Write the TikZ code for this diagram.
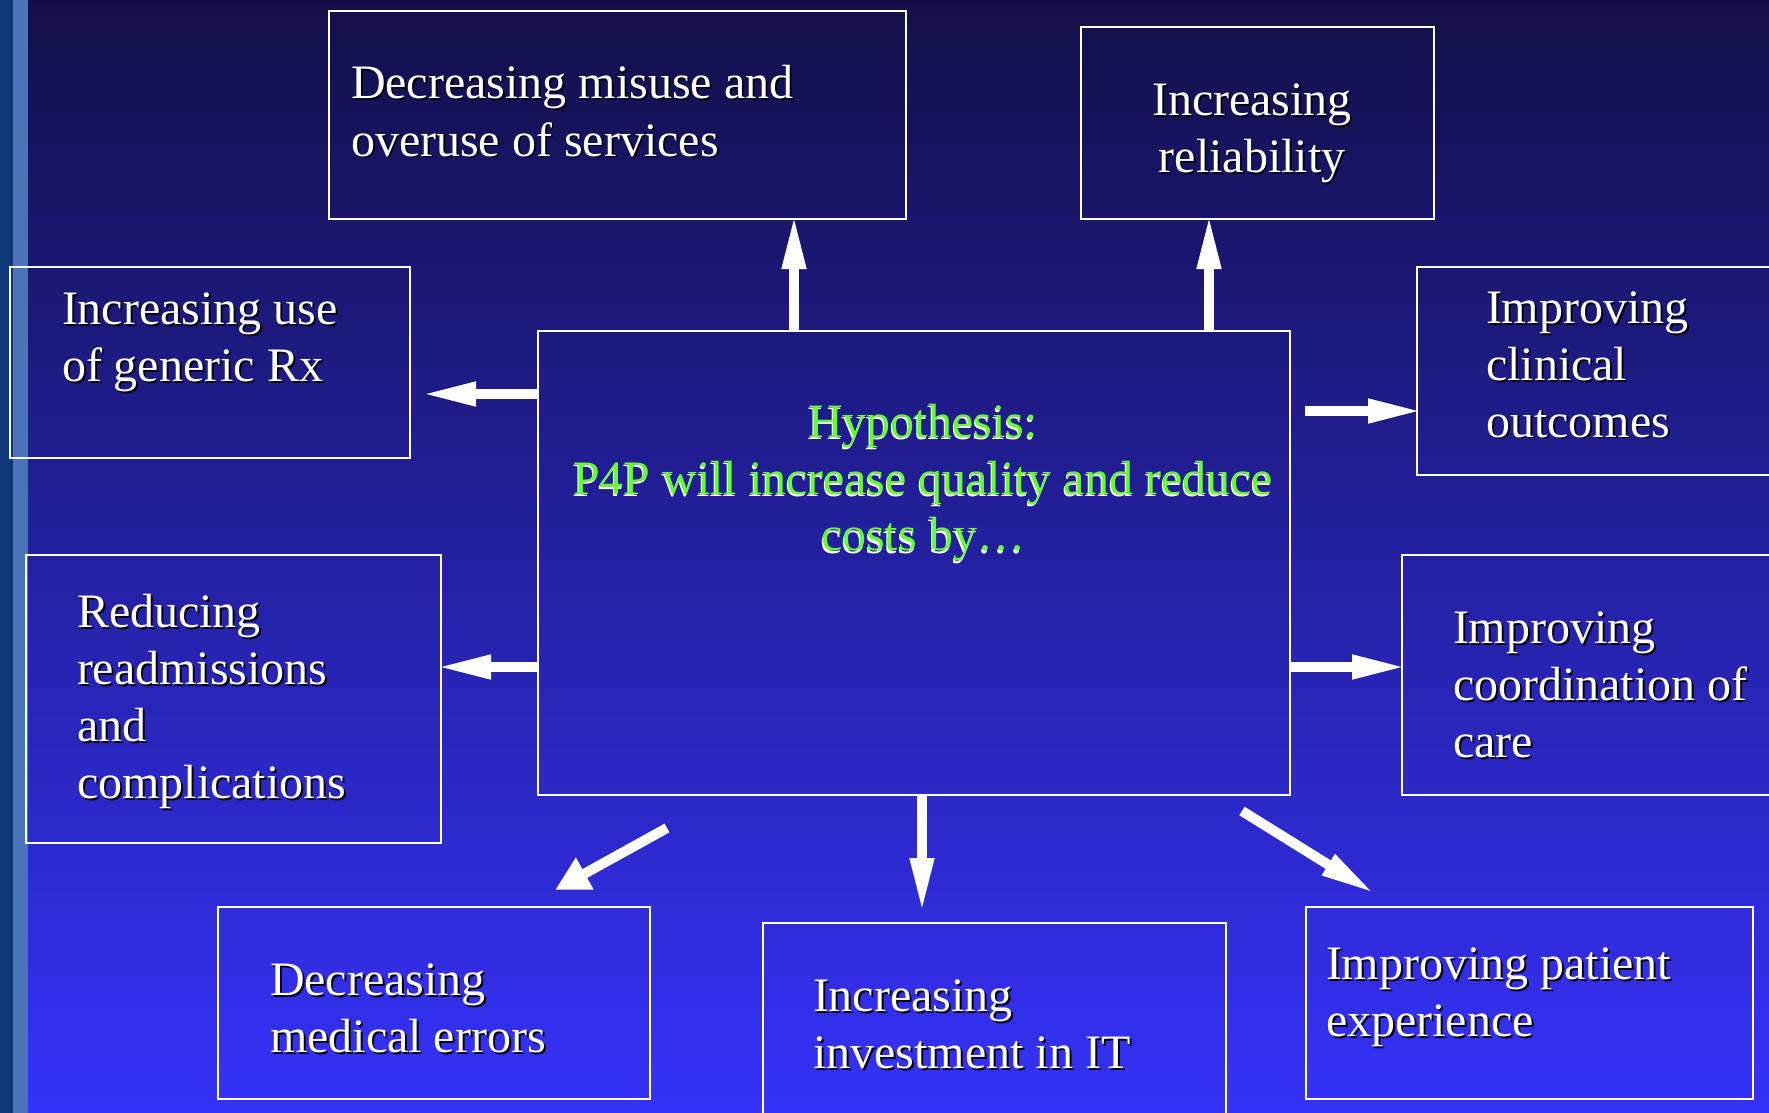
\documentclass[tikz,border=0pt]{standalone}
\usepackage{fontspec}
\setmainfont{Liberation Serif}
\usetikzlibrary{arrows.meta}
\definecolor{bgtop}{RGB}{18,15,72}
\definecolor{bgmid}{RGB}{38,36,178}
\definecolor{bgbot}{RGB}{53,50,250}
\definecolor{stripedark}{RGB}{10,56,120}
\definecolor{stripelight}{RGB}{75,115,183}
\definecolor{hypgreen}{RGB}{102,255,51}
\definecolor{shadowc}{RGB}{5,5,20}
\tikzset{
  box/.style={draw=white, line width=1.1pt, inner sep=0pt, outer sep=0pt, anchor=north west},
  txt/.style={inner sep=0pt, outer sep=0pt, font=\fontsize{24}{28.5}\selectfont, text=white},
  shd/.style={txt, text=shadowc, xshift=1pt, yshift=-1pt},
  gtxt/.style={txt, text=hypgreen},
  gshd/.style={txt, text=white, xshift=-0.5pt, yshift=-1pt},
  arr/.style={draw=white, line width=5pt, shorten >=-3.5pt, -{Triangle[length=27.5pt, width=11pt]}},
  arrwide/.style={draw=white, line width=5pt, -{Triangle[length=17pt, width=17pt]}},
}
\newcommand\mybox[5]{\node[box, minimum width={(#4-#2)*0.5pt}, minimum height={(#5-#3)*0.5pt}] (#1) at (#2,#3) {};}
\newcommand\ltext[4]{%
  \node[shd, anchor=base west] at (#2,#3) {\begin{tabular}[t]{@{}l@{}}#4\end{tabular}};
  \node[txt, anchor=base west] (#1) at (#2,#3) {\begin{tabular}[t]{@{}l@{}}#4\end{tabular}};}
\newcommand\ctext[4]{%
  \node[shd, anchor=base] at (#2,#3) {\begin{tabular}[t]{@{}c@{}}#4\end{tabular}};
  \node[txt, anchor=base] (#1) at (#2,#3) {\begin{tabular}[t]{@{}c@{}}#4\end{tabular}};}
\begin{document}
\begin{tikzpicture}[x=0.5pt, y=-0.5pt]
\useasboundingbox (0,0) rectangle (1769,1113);
\clip (0,0) rectangle (1769,1113);
% background
\shade[top color=bgtop, middle color=bgmid, bottom color=bgbot] (28,0) rectangle (1769,1113);
\fill[stripedark] (0,0) rectangle (13,1113);
\fill[stripelight] (13,0) rectangle (28,1113);

% boxes
\mybox{b1}{329}{11}{906}{219}
\mybox{b2}{1081}{27}{1434}{219}
\mybox{b3}{10}{267}{410}{458}
\mybox{b4}{1417}{267}{1774}{475}
\mybox{b5}{26}{555}{441}{843}
\mybox{b6}{1402}{555}{1774}{795}
\mybox{hyp}{538}{331}{1290}{795}
\mybox{b7}{218}{907}{650}{1099}
\mybox{b8}{763}{923}{1226}{1125}
\mybox{b9}{1306}{907}{1753}{1099}

% texts
\ltext{t1}{351}{99}{Decreasing misuse and\\overuse of services}
\ctext{t2}{1252}{116}{Increasing\\reliability}
\ltext{t3}{62}{324}{Increasing use\\of generic Rx}
\ltext{t4}{1486}{323}{Improving\\clinical\\outcomes}
\ltext{t5}{77}{627}{Reducing\\readmissions\\and\\complications}
\ltext{t6}{1453}{643}{Improving\\coordination of\\care}
\ltext{t7}{270}{995}{Decreasing\\medical errors}
\ltext{t8}{813}{1011}{Increasing\\investment in IT}
\ltext{t9}{1326}{979}{Improving patient\\experience}
\node[gshd, anchor=base] at (923,437) {\begin{tabular}[t]{@{}c@{}}Hypothesis:\\P4P will increase quality and reduce\\costs by\ldots\end{tabular}};
\node[gtxt, anchor=base] (thyp) at (923,437) {\begin{tabular}[t]{@{}c@{}}Hypothesis:\\P4P will increase quality and reduce\\costs by\ldots\end{tabular}};

% arrow end points
\coordinate (e1) at (794,221);
\coordinate (e2) at (1209,221);
\coordinate (e3) at (428,394);
\coordinate (s4) at (1305,411);
\coordinate (e4) at (1416,411);
\coordinate (e5) at (443,667);
\coordinate (e6) at (1400,667);
\coordinate (s7) at (667,828);
\coordinate (e7) at (555,890);
\coordinate (e8) at (922,906);
\coordinate (s9) at (1242,811);
\coordinate (e9) at (1369,890);

% arrows
\draw[arr] (hyp.north -| e1) -- (e1);
\draw[arr] (hyp.north -| e2) -- (e2);
\draw[arr] (hyp.west |- e3) -- (e3);
\draw[arr] (s4) -- (e4);
\draw[arr] (hyp.west |- e5) -- (e5);
\draw[arr] (hyp.east |- e6) -- (e6);
\draw[arrwide] (s7) -- (e7);
\draw[arr] (hyp.south -| e8) -- (e8);
\draw[arr] (s9) -- (e9);
\end{tikzpicture}
\end{document}
